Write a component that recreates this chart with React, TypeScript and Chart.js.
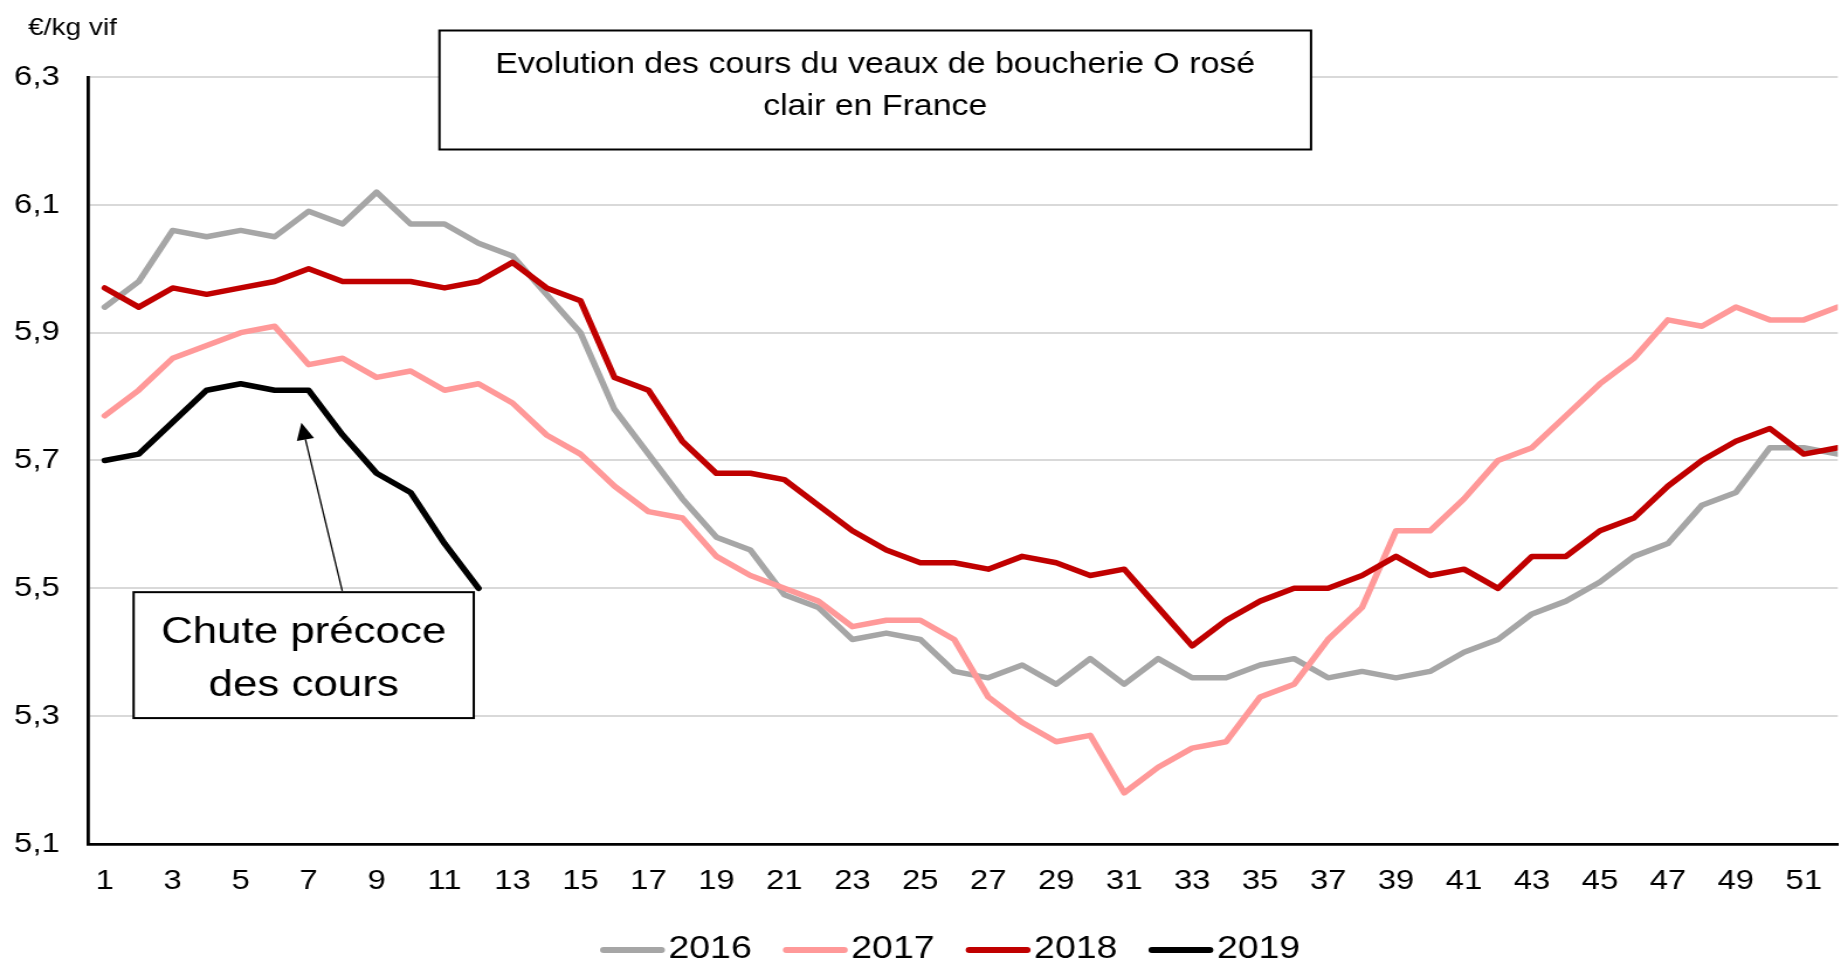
import React, { useEffect, useRef } from 'react';
import { Chart, registerables } from 'chart.js';

Chart.register(...registerables);

// ---------- DATA ----------
const weeks = [1, 2, 3, 4, 5, 6, 7, 8, 9, 10, 11, 12, 13, 14, 15, 16, 17, 18, 19, 20, 21, 22, 23, 24, 25, 26,
  27, 28, 29, 30, 31, 32, 33, 34, 35, 36, 37, 38, 39, 40, 41, 42, 43, 44, 45, 46, 47, 48, 49, 50, 51, 52];
const xTickLabels = [1, 3, 5, 7, 9, 11, 13, 15, 17, 19, 21, 23, 25, 27, 29, 31, 33, 35, 37, 39, 41, 43, 45, 47, 49, 51];
const yTickLabels = [5.1, 5.3, 5.5, 5.7, 5.9, 6.1, 6.3];

const seriesNames = ['2016', '2017', '2018', '2019'];
const values2016 = [5.94, 5.98, 6.06, 6.05, 6.06, 6.05, 6.09, 6.07, 6.12, 6.07, 6.07, 6.04, 6.02, 5.96, 5.90, 5.78,
  5.71, 5.64, 5.58, 5.56, 5.49, 5.47, 5.42, 5.43, 5.42, 5.37, 5.36, 5.38, 5.35, 5.39, 5.35, 5.39, 5.36, 5.36,
  5.38, 5.39, 5.36, 5.37, 5.36, 5.37, 5.40, 5.42, 5.46, 5.48, 5.51, 5.55, 5.57, 5.63, 5.65, 5.72, 5.72, 5.71];
const values2017 = [5.77, 5.81, 5.86, 5.88, 5.90, 5.91, 5.85, 5.86, 5.83, 5.84, 5.81, 5.82, 5.79, 5.74, 5.71, 5.66,
  5.62, 5.61, 5.55, 5.52, 5.50, 5.48, 5.44, 5.45, 5.45, 5.42, 5.33, 5.29, 5.26, 5.27, 5.18, 5.22, 5.25, 5.26,
  5.33, 5.35, 5.42, 5.47, 5.59, 5.59, 5.64, 5.70, 5.72, 5.77, 5.82, 5.86, 5.92, 5.91, 5.94, 5.92, 5.92, 5.94];
const values2018 = [5.97, 5.94, 5.97, 5.96, 5.97, 5.98, 6.00, 5.98, 5.98, 5.98, 5.97, 5.98, 6.01, 5.97, 5.95, 5.83,
  5.81, 5.73, 5.68, 5.68, 5.67, 5.63, 5.59, 5.56, 5.54, 5.54, 5.53, 5.55, 5.54, 5.52, 5.53, 5.47, 5.41, 5.45,
  5.48, 5.50, 5.50, 5.52, 5.55, 5.52, 5.53, 5.50, 5.55, 5.55, 5.59, 5.61, 5.66, 5.70, 5.73, 5.75, 5.71, 5.72];
const values2019 = [5.70, 5.71, 5.76, 5.81, 5.82, 5.81, 5.81, 5.74, 5.68, 5.65, 5.57, 5.50];

const seriesValues = [values2016, values2017, values2018, values2019];
const seriesColors = ['#A6A6A6', '#FF9999', '#C00000', '#000000'];

const unitLabel = '€/kg vif';
const titleLines = ['Evolution des cours du veaux de boucherie O rosé', 'clair en France'];
const noteLines = ['Chute précoce', 'des cours'];

// ---------- LAYOUT ----------
const PAGE_W = 1841;
const CANVAS_W = 1574;
const CANVAS_H = 961;
const STRETCH = PAGE_W / CANVAS_W;
const FONT = "'Liberation Sans', Arial, Helvetica, sans-serif";

const decorPlugin = {
  id: 'decor',
  afterDraw(chart: any) {
    const ctx = chart.ctx as CanvasRenderingContext2D;
    const xs = chart.scales.x;
    const ys = chart.scales.y;
    ctx.save();

    // unit label
    ctx.fillStyle = '#000';
    ctx.font = `24px ${FONT}`;
    ctx.textAlign = 'left';
    ctx.textBaseline = 'alphabetic';
    ctx.fillText(unitLabel, 24, 35);

    // title box
    const tx1 = 375.7, ty1 = 30.5, tx2 = 1120.9, ty2 = 149.5;
    ctx.fillStyle = '#fff';
    ctx.fillRect(tx1, ty1, tx2 - tx1, ty2 - ty1);
    ctx.lineWidth = 2;
    ctx.strokeStyle = '#000';
    ctx.strokeRect(tx1, ty1, tx2 - tx1, ty2 - ty1);
    ctx.fillStyle = '#000';
    ctx.font = `29px ${FONT}`;
    ctx.textAlign = 'center';
    ctx.fillText(titleLines[0], (tx1 + tx2) / 2, 73.3);
    ctx.fillText(titleLines[1], (tx1 + tx2) / 2, 115);

    // annotation box (data coordinates)
    const bx1 = xs.getPixelForValue(1.85);
    const bx2 = xs.getPixelForValue(11.86);
    const by1 = ys.getPixelForValue(5.494);
    const by2 = ys.getPixelForValue(5.297);
    ctx.fillStyle = '#fff';
    ctx.fillRect(bx1, by1, bx2 - bx1, by2 - by1);
    ctx.lineWidth = 2;
    ctx.strokeStyle = '#000';
    ctx.strokeRect(bx1, by1, bx2 - bx1, by2 - by1);
    ctx.fillStyle = '#000';
    ctx.font = `37.5px ${FONT}`;
    ctx.textAlign = 'center';
    ctx.fillText(noteLines[0], (bx1 + bx2) / 2, by1 + 51);
    ctx.fillText(noteLines[1], (bx1 + bx2) / 2, by1 + 104);

    // arrow
    const ax0 = xs.getPixelForValue(7.99), ay0 = ys.getPixelForValue(5.496);
    const ax1 = xs.getPixelForValue(6.787), ay1 = ys.getPixelForValue(5.759);
    const dx = ax1 - ax0, dy = ay1 - ay0;
    const len = Math.hypot(dx, dy);
    const ux = dx / len, uy = dy / len;
    const headLen = 17, headHalf = 7.5;
    const hbx = ax1 - ux * headLen, hby = ay1 - uy * headLen;
    ctx.strokeStyle = '#000';
    ctx.lineWidth = 1.3;
    ctx.beginPath();
    ctx.moveTo(ax0, ay0);
    ctx.lineTo(hbx, hby);
    ctx.stroke();
    ctx.fillStyle = '#000';
    ctx.beginPath();
    ctx.moveTo(ax1, ay1);
    ctx.lineTo(hbx - uy * headHalf, hby + ux * headHalf);
    ctx.lineTo(hbx + uy * headHalf, hby - ux * headHalf);
    ctx.closePath();
    ctx.fill();

    // legend
    const legendStartX = 513, legendStep = 156.3, lineLen = 55.5, legendY = 950;
    ctx.textAlign = 'left';
    ctx.font = `32px ${FONT}`;
    seriesNames.forEach((name, i) => {
      const x0 = legendStartX + i * legendStep;
      ctx.strokeStyle = seriesColors[i];
      ctx.lineWidth = 6;
      ctx.lineCap = 'round';
      ctx.beginPath();
      ctx.moveTo(x0 + 3, legendY);
      ctx.lineTo(x0 + lineLen - 3, legendY);
      ctx.stroke();
      ctx.fillStyle = '#000';
      ctx.fillText(name, x0 + 58.5, 958);
    });

    ctx.restore();
  },
};

export default function App() {
  const canvasRef = useRef<HTMLCanvasElement | null>(null);

  useEffect(() => {
    if (!canvasRef.current) return;
    Chart.defaults.font.family = FONT;
    const chart = new Chart(canvasRef.current, {
      type: 'line',
      data: {
        datasets: seriesNames.map((name, i) => ({
          label: name,
          data: seriesValues[i].map((v, j) => ({ x: weeks[j], y: v })),
          borderColor: seriesColors[i],
          backgroundColor: seriesColors[i],
          borderWidth: 5.5,
          pointRadius: 0,
          pointHoverRadius: 0,
          tension: 0,
          fill: false,
          borderJoinStyle: 'round' as const,
          borderCapStyle: 'round' as const,
          order: seriesNames.length - i,
        })),
      },
      options: {
        animation: false,
        responsive: true,
        maintainAspectRatio: false,
        events: [],
        layout: { padding: { top: 77, left: 0, right: 0, bottom: 0 } },
        plugins: {
          legend: { display: false },
          tooltip: { enabled: false },
          title: { display: false },
        },
        scales: {
          x: {
            type: 'linear',
            min: 0.5,
            max: 52,
            grid: { display: false, drawTicks: false },
            border: { display: true, color: '#000', width: 2.7 },
            afterBuildTicks: (scale: any) => {
              scale.ticks = xTickLabels.map((v) => ({ value: v }));
            },
            afterFit: (scale: any) => {
              scale.height = CANVAS_H - 844;
              scale.paddingLeft = 0;
              scale.paddingRight = 0;
            },
            ticks: {
              autoSkip: false,
              maxRotation: 0,
              padding: 20,
              color: '#000',
              font: { size: 28, family: FONT },
              callback: (v: any) => String(v),
            },
          },
          y: {
            type: 'linear',
            min: 5.1,
            max: 6.3,
            grid: { color: '#D9D9D9', lineWidth: 2, drawTicks: false },
            border: { display: true, color: '#000', width: 2.8 },
            afterBuildTicks: (scale: any) => {
              scale.ticks = yTickLabels.map((v) => ({ value: v }));
            },
            afterFit: (scale: any) => {
              scale.width = 75;
            },
            ticks: {
              padding: 24,
              color: '#000',
              font: { size: 28, family: FONT },
              callback: (v: any) => Number(v).toFixed(1).replace('.', ','),
            },
          },
        },
      },
      plugins: [decorPlugin],
    });
    return () => chart.destroy();
  }, []);

  return (
    <div
      style={{
        position: 'fixed',
        left: 0,
        top: 0,
        width: PAGE_W,
        height: CANVAS_H,
        overflow: 'hidden',
        background: '#fff',
      }}
    >
      <div
        style={{
          position: 'absolute',
          left: 0,
          top: 0,
          width: CANVAS_W,
          height: CANVAS_H,
          transform: `scaleX(${STRETCH})`,
          transformOrigin: '0 0',
        }}
      >
        <canvas ref={canvasRef} />
      </div>
    </div>
  );
}
